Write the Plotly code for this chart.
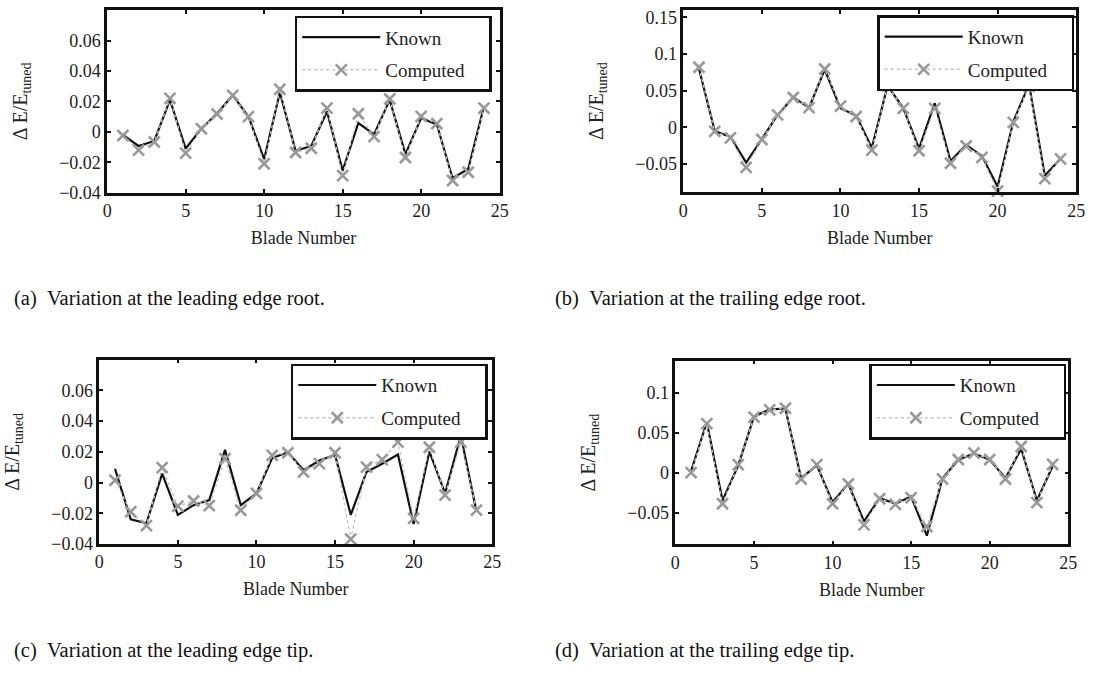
import plotly.graph_objects as go

blades = list(range(1, 25))

a_known = [-0.002, -0.0093, -0.006, 0.021, -0.011, 0.002, 0.012, 0.024, 0.010, -0.018, 0.026, -0.0125,
           -0.0093, 0.0134, -0.0255, 0.0058, -0.0017, 0.021, -0.0147, 0.0091, 0.0048, -0.0305, -0.0244, 0.0166]
a_comp = [-0.0024, -0.012, -0.0067, 0.022, -0.014, 0.002, 0.0117, 0.024, 0.010, -0.021, 0.028, -0.0136,
          -0.0108, 0.0156, -0.0288, 0.0119, -0.0032, 0.0216, -0.0169, 0.0102, 0.0054, -0.032, -0.0266, 0.0156]

b_known = [0.080, -0.005, -0.013, -0.048, -0.016, 0.017, 0.041, 0.027, 0.079, 0.026, 0.016, -0.028,
           0.057, 0.026, -0.029, 0.033, -0.046, -0.024, -0.039, -0.081, 0.008, 0.0586, -0.066, -0.043]
b_comp = [0.082, -0.0054, -0.0143, -0.0546, -0.0166, 0.017, 0.0407, 0.027, 0.0797, 0.029, 0.0148, -0.031,
          0.057, 0.026, -0.032, 0.026, -0.049, -0.0255, -0.041, -0.087, 0.0067, 0.056, -0.070, -0.043]

c_known = [0.009, -0.024, -0.0265, 0.0058, -0.021, -0.0147, -0.0114, 0.0213, -0.0147, -0.0071, 0.016, 0.0198,
           0.008, 0.0144, 0.018, -0.021, 0.0069, 0.0123, 0.0183, -0.027, 0.0203, -0.0071, 0.0306, -0.019]
c_comp = [0.0015, -0.019, -0.028, 0.0097, -0.0153, -0.012, -0.015, 0.0155, -0.018, -0.0071, 0.0177, 0.0194,
          0.0069, 0.0123, 0.0194, -0.0368, 0.0101, 0.0149, 0.0263, -0.0233, 0.023, -0.0082, 0.0263, -0.0179]

d_known = [0.002, 0.063, -0.035, 0.009, 0.070, 0.079, 0.080, -0.007, 0.009, -0.037, -0.014, -0.061,
           -0.032, -0.039, -0.030, -0.079, -0.007, 0.016, 0.024, 0.016, -0.007, 0.030, -0.035, 0.008]
d_comp = [0.0, 0.0613, -0.039, 0.010, 0.0695, 0.0785, 0.0805, -0.008, 0.010, -0.039, -0.0143, -0.0654,
          -0.0327, -0.0397, -0.0315, -0.0675, -0.008, 0.0164, 0.0245, 0.0164, -0.008, 0.0327, -0.0376, 0.0102]

x_ticks = [0, 5, 10, 15, 20, 25]
y_ticks_ac = [-0.04, -0.02, 0, 0.02, 0.04, 0.06]
y_text_ac = ["\u22120.04", "\u22120.02", "0", "0.02", "0.04", "0.06"]
y_ticks_b = [-0.05, 0, 0.05, 0.1, 0.15]
y_text_b = ["\u22120.05", "0", "0.05", "0.1", "0.15"]
y_ticks_d = [-0.05, 0, 0.05, 0.1]
y_text_d = ["\u22120.05", "0", "0.05", "0.1"]

captions = ["(a)\u00a0\u00a0Variation at the leading edge root.",
            "(b)\u00a0\u00a0Variation at the trailing edge root.",
            "(c)\u00a0\u00a0Variation at the leading edge tip.",
            "(d)\u00a0\u00a0Variation at the trailing edge tip."]

W, H = 1102, 697
FONT = "Liberation Serif"

panels = [
    # known, comp, xdomain px, ydomain px (top, bottom), yrange, yticks, ytext, legend box (right, top)
    (a_known, a_comp, (103.5, 501), (8.3, 194), [-0.04, 0.08], y_ticks_ac, y_text_ac, (493, 14)),
    (b_known, b_comp, (687, 1085), (8.3, 193.5), [-0.0885, 0.16], y_ticks_b, y_text_b, (1083, 13.5)),
    (c_known, c_comp, (95.5, 493.5), (364, 551.5), [-0.04, 0.08], y_ticks_ac, y_text_ac, (489, 368)),
    (d_known, d_comp, (679, 1077), (365, 552), [-0.09, 0.14], y_ticks_d, y_text_d, (1075, 368)),
]

fig = go.Figure()
layout = dict(
    width=W, height=H, autosize=False,
    margin=dict(l=0, r=0, t=0, b=0),
    paper_bgcolor="white", plot_bgcolor="white",
    font=dict(family=FONT, size=18, color="#222"),
    showlegend=True,
)

PAD = "\u00a0" * 4

for i, (kn, cp, xd, yd, yr, ytv, ytt, lg) in enumerate(panels):
    n = i + 1
    sfx = "" if n == 1 else str(n)
    lname = "legend" if n == 1 else f"legend{n}"
    fig.add_trace(go.Scatter(
        x=blades, y=kn, mode="lines", name="Known",
        line=dict(color="#111111", width=2.2),
        xaxis=f"x{sfx}", yaxis=f"y{sfx}", legend=lname, legendgroup=f"k{n}",
        cliponaxis=False,
    ))
    fig.add_trace(go.Scatter(
        x=blades, y=cp, mode="lines+markers", name="Computed" + PAD,
        line=dict(color="#c4c4c4", width=1.4, dash="dot"),
        marker=dict(symbol="x-thin", size=11, line=dict(color="#999999", width=2.6)),
        xaxis=f"x{sfx}", yaxis=f"y{sfx}", legend=lname, legendgroup=f"c{n}",
        cliponaxis=False,
    ))
    axis_common = dict(
        showline=True, linecolor="#111", linewidth=2.5, mirror="ticks",
        ticks="inside", ticklen=4, tickwidth=1.5, tickcolor="#111",
        showgrid=False, zeroline=False,
        tickfont=dict(family=FONT, size=18, color="#222"),
    )
    layout[f"xaxis{sfx}"] = dict(
        axis_common, domain=[xd[0] / W, xd[1] / W], range=[0, 25],
        tickvals=x_ticks, anchor=f"y{sfx}",
        title=dict(text="Blade Number", font=dict(family=FONT, size=18, color="#222"), standoff=12),
    )
    layout[f"yaxis{sfx}"] = dict(
        axis_common, domain=[1 - yd[1] / H, 1 - yd[0] / H], range=yr,
        tickvals=ytv, ticktext=ytt, anchor=f"x{sfx}",
        title=dict(text="\u0394 E/E<sub>tuned</sub>", font=dict(family=FONT, size=20, color="#222"), standoff=27),
    )
    layout[lname] = dict(
        x=lg[0] / W, y=1 - lg[1] / H, xanchor="right", yanchor="top",
        xref="paper", yref="paper",
        bordercolor="#111", borderwidth=2.5, bgcolor="white",
        font=dict(family=FONT, size=19, color="#222"),
        itemwidth=78, tracegroupgap=5,
    )

cap_pos = [(7, 302), (555, 302), (7, 660), (555, 660)]
annotations = []
for txt, (cx, cy) in zip(captions, cap_pos):
    annotations.append(dict(
        text=txt, x=cx / W, y=1 - cy / H, xref="paper", yref="paper",
        xanchor="left", yanchor="middle", showarrow=False,
        font=dict(family=FONT, size=20.5, color="#111"),
    ))
layout["annotations"] = annotations

fig.update_layout(**layout)
fig.write_html("out.html")
